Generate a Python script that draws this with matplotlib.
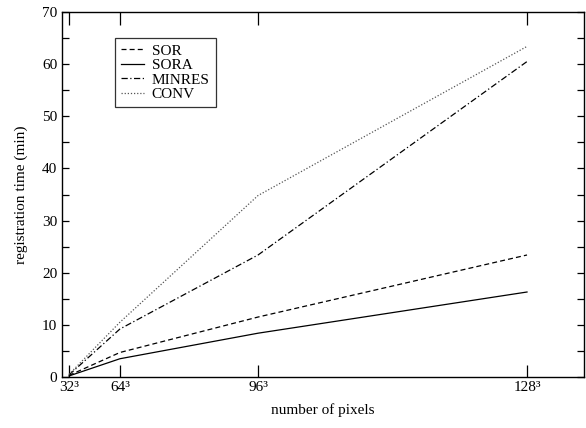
import matplotlib
matplotlib.use("Agg")
import matplotlib.pyplot as plt
from matplotlib.ticker import MultipleLocator

plt.rcParams['font.family'] = ['Liberation Serif', 'DejaVu Serif']

sizes = [32, 64, 96, 128]
tick_labels = ["32³", "64³", "96³", "128³"]
sor = [0.3, 4.7, 11.5, 23.4]
sora = [0.2, 3.5, 8.4, 16.3]
minres = [0.4, 9.2, 23.4, 60.5]
conv = [0.5, 10.5, 34.8, 63.4]

npix = [s ** 3 for s in sizes]

fig = plt.figure(figsize=(5.86, 4.28), dpi=100)
ax = fig.add_axes([62/586, 51/428, 522/586, 365/428])

ax.plot(npix, sor, color='black', linestyle=(0, (4, 2.5)), lw=0.9, label='SOR')
ax.plot(npix, sora, color='black', linestyle='-', lw=0.9, label='SORA')
ax.plot(npix, minres, color='black', linestyle=(0, (5, 2, 1, 2)), lw=0.9, label='MINRES')
ax.plot(npix, conv, color='#555555', linestyle=(0, (1, 1.5)), lw=0.9, label='CONV')

ax.set_xlim(1200, 2354000)
ax.set_ylim(0, 70)
ax.set_xticks(npix)
ax.set_xticklabels(tick_labels)
ax.yaxis.set_major_locator(MultipleLocator(10))
ax.yaxis.set_minor_locator(MultipleLocator(5))

ax.tick_params(axis='x', direction='in', top=True, bottom=True, length=9, width=0.9,
               labelsize=11, pad=3)
ax.tick_params(axis='y', which='both', direction='in', left=True, right=True, length=5,
               width=0.9, labelsize=11)
for sp in ax.spines.values():
    sp.set_linewidth(1.0)

ax.set_xlabel('number of pixels', fontsize=11)
ax.xaxis.set_label_coords(0.5, -33/365 - 0.0)
ax.xaxis.label.set_verticalalignment('center')
ax.set_ylabel('registration time (min)', fontsize=11, labelpad=10)

leg = ax.legend(loc='upper left', bbox_to_anchor=(53/522, 1 - 26/365), fontsize=11,
                frameon=True, fancybox=False, edgecolor='black', borderpad=0.4,
                labelspacing=0.05, handlelength=1.5, handletextpad=0.5,
                borderaxespad=0)
leg.get_frame().set_linewidth(0.9)

fig.savefig('out.png', dpi=100)
